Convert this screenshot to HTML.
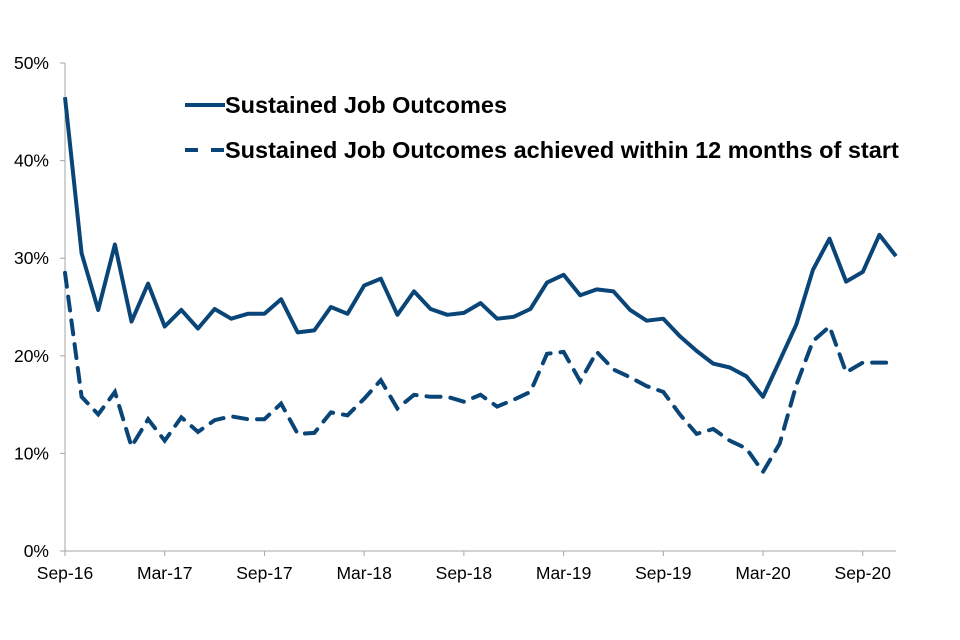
<!DOCTYPE html>
<html><head><meta charset="utf-8"><style>
html,body{margin:0;padding:0;background:#fff;}
svg{display:block;font-family:"Liberation Sans",Arial,sans-serif;}
</style></head><body>
<svg id="chart" width="960" height="640" viewBox="0 0 960 640">
<g id="axes"></g>
<g id="series"></g>
<g>
 <g>
  <line x1="185" y1="105" x2="225" y2="105" stroke="#0a4577" stroke-width="4"/>
  <text x="225" y="113" font-size="23.5" font-weight="bold" fill="#000">Sustained Job Outcomes</text>
 </g>
 <g>
  <line x1="185" y1="150" x2="225" y2="150" stroke="#0a4577" stroke-width="4" stroke-dasharray="13,13"/>
  <text x="225" y="158" font-size="23.5" font-weight="bold" fill="#000">Sustained Job Outcomes achieved within 12 months of start</text>
 </g>
</g>
</svg>
<script>
const xTickLabels = ["Sep-16","Mar-17","Sep-17","Mar-18","Sep-18","Mar-19","Sep-19","Mar-20","Sep-20"];
const yTickLabels = ["0%","10%","20%","30%","40%","50%"];
const yTickValues = [0,10,20,30,40,50];
const sustained = [46.5,30.5,24.7,31.4,23.5,27.4,23.0,24.7,22.8,24.8,23.8,24.3,24.3,25.8,22.4,22.6,25.0,24.3,27.2,27.9,24.2,26.6,24.8,24.2,24.4,25.4,23.8,24.0,24.8,27.5,28.3,26.2,26.8,26.6,24.7,23.6,23.8,22.0,20.5,19.2,18.8,17.9,15.8,19.5,23.2,28.8,32.0,27.6,28.6,32.4,30.2];
const within12 = [28.5,15.8,14.0,16.3,10.7,13.5,11.3,13.7,12.2,13.4,13.8,13.5,13.5,15.1,12.0,12.1,14.2,13.9,15.6,17.5,14.6,16.0,15.8,15.8,15.3,16.0,14.8,15.5,16.3,20.2,20.4,17.4,20.4,18.6,17.8,16.9,16.3,14.0,12.0,12.5,11.3,10.5,8.1,11.0,17.0,21.5,23.0,18.3,19.3,19.3,19.3];

const NS="http://www.w3.org/2000/svg";
const X0=65, X1=896, Y0=551, Y1=63;
const nMonths = 50;
function xs(i){return X0+(X1-X0)*i/nMonths;}
function ys(v){return Y0-(Y0-Y1)*v/50;}
const axes=document.getElementById('axes');
function mk(tag,attrs,parent){const e=document.createElementNS(NS,tag);for(const k in attrs)e.setAttribute(k,attrs[k]);parent.appendChild(e);return e;}
let yl=mk('line',{x1:X0,y1:Y1,x2:X0,y2:Y0,stroke:'#a6a6a6','stroke-width':1},axes);


let xl=mk('line',{x1:X0,y1:Y0,x2:X1,y2:Y0,stroke:'#a6a6a6','stroke-width':1},axes);


yTickValues.forEach((v,i)=>{
 const y=ys(v);
 let t=mk('line',{x1:X0-5,y1:y,x2:X0,y2:y,stroke:'#a6a6a6'},axes);
 
 
 let tx=mk('text',{x:49,y:y+6,'text-anchor':'end','font-size':17.5,fill:'#000'},axes);
 tx.textContent=yTickLabels[i];
 
 
});
xTickLabels.forEach((lab,i)=>{
 const x=xs(i*6);
 let t=mk('line',{x1:x,y1:Y0,x2:x,y2:Y0+5,stroke:'#a6a6a6'},axes);
 
 
 let tx=mk('text',{x:x,y:Y0+28,'text-anchor':'middle','font-size':17.5,fill:'#000'},axes);
 tx.textContent=lab;
 
 
});
const sg=document.getElementById('series');
function pts(arr){return arr.map((v,i)=>xs(i).toFixed(1)+','+ys(v).toFixed(1)).join(' ');}
let p1=mk('polyline',{points:pts(sustained),fill:'none',stroke:'#0a4577','stroke-width':4,'stroke-linejoin':'round'},sg);


let p2=mk('polyline',{points:pts(within12),fill:'none',stroke:'#0a4577','stroke-width':4,'stroke-dasharray':'14,10','stroke-linecap':'round'},sg);


</script>
</body></html>
